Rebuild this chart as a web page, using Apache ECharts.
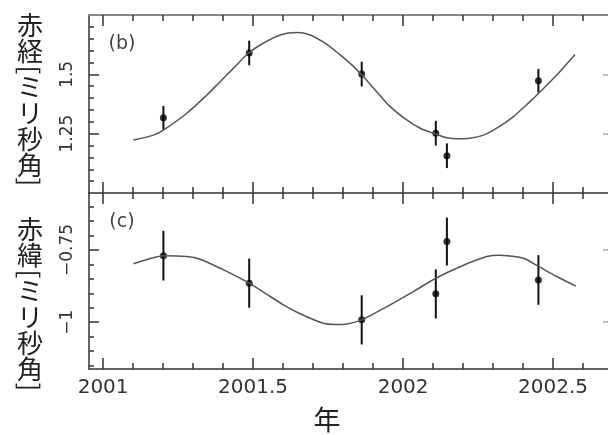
<!DOCTYPE html>
<html>
<head>
<meta charset="utf-8">
<script src="https://cdn.jsdelivr.net/npm/echarts@6/dist/echarts.min.js"></script>
<style>
html,body{margin:0;padding:0;background:#fff;}
#chart{width:608px;height:435px;}
</style>
</head>
<body>
<div id="chart"></div>
<script>
// ---- data ----
const xTicksMajor = [2001, 2001.5, 2002, 2002.5];
const xTicksMinor = [2001.0, 2001.1, 2001.2, 2001.3, 2001.4, 2001.5, 2001.6, 2001.7, 2001.8, 2001.9,
                     2002.0, 2002.1, 2002.2, 2002.3, 2002.4, 2002.5, 2002.6];
const raTicksMajor = [1.25, 1.5];
const raTicksMinor = [1.05, 1.1, 1.15, 1.2, 1.25, 1.3, 1.35, 1.4, 1.45, 1.5, 1.55, 1.6, 1.65, 1.7];
const decTicksMajor = [-1, -0.75];
const decTicksMinor = [-1.15, -1.1, -1.05, -1, -0.95, -0.9, -0.85, -0.8, -0.75, -0.7, -0.65, -0.6];

const obsEpoch = [2001.201, 2001.487, 2001.862, 2002.109, 2002.146, 2002.451];
const raObs    = [1.317, 1.590, 1.501, 1.252, 1.157, 1.473];
const raErr    = [0.05, 0.052, 0.052, 0.052, 0.052, 0.05];
const decObs   = [-0.770, -0.865, -0.992, -0.902, -0.721, -0.854];
const decErr   = [0.086, 0.085, 0.085, 0.085, 0.083, 0.086];

const raFitEpoch = [2001.101, 2001.168, 2001.201, 2001.279, 2001.346, 2001.390, 2001.434, 2001.484,
                    2001.534, 2001.590, 2001.646, 2001.690, 2001.740, 2001.790, 2001.829, 2001.862,
                    2001.912, 2001.957, 2002.012, 2002.057, 2002.107, 2002.146, 2002.185, 2002.223,
                    2002.268, 2002.312, 2002.368, 2002.423, 2002.457, 2002.512, 2002.573];
const raFit      = [1.223, 1.244, 1.265, 1.336, 1.413, 1.469, 1.525, 1.589,
                    1.631, 1.666, 1.676, 1.666, 1.631, 1.582, 1.540, 1.498,
                    1.427, 1.364, 1.308, 1.273, 1.249, 1.233, 1.229, 1.231,
                    1.244, 1.273, 1.322, 1.385, 1.427, 1.497, 1.584];

const decFitEpoch = [2001.101, 2001.150, 2001.201, 2001.279, 2001.323, 2001.400, 2001.487, 2001.545,
                     2001.601, 2001.657, 2001.734, 2001.773, 2001.812, 2001.862, 2001.946, 2002.034,
                     2002.109, 2002.190, 2002.279, 2002.320, 2002.357, 2002.401, 2002.453, 2002.512,
                     2002.576];
const decFit      = [-0.798, -0.782, -0.770, -0.773, -0.782, -0.818, -0.865, -0.903,
                     -0.940, -0.971, -1.004, -1.008, -1.006, -0.992, -0.946, -0.894,
                     -0.848, -0.808, -0.773, -0.768, -0.771, -0.779, -0.808, -0.842,
                     -0.875];

// ---- chart ----
const X_MIN = 2000.953, X_MAX = 2002.683;
const AX = '#333';

function xPair(grid, position, lineStyle, withLabels) {
  const common = { type: 'value', gridIndex: grid, position: position, min: X_MIN, max: X_MAX,
                   splitLine: { show: false } };
  return [
    Object.assign({}, common, {
      axisLine: { show: !!lineStyle, onZero: false, lineStyle: lineStyle || {} },
      axisTick: { show: true, inside: true, length: 6, customValues: xTicksMinor,
                  lineStyle: { color: AX, width: 1.5 } },
      axisLabel: { show: false }
    }),
    Object.assign({}, common, {
      axisLine: { show: false, onZero: false },
      axisTick: { show: true, inside: true, length: 11, customValues: xTicksMajor,
                  lineStyle: { color: AX, width: 1.5 } },
      axisLabel: withLabels ? {
        show: true, customValues: xTicksMajor, margin: 9,
        fontFamily: 'DejaVu Sans', fontSize: 20, color: '#333',
        formatter: v => String(v)
      } : { show: false }
    })
  ];
}

function yTriple(grid, min, max, minor, major) {
  const common = { type: 'value', gridIndex: grid, min: min, max: max, splitLine: { show: false } };
  return [
    Object.assign({}, common, {
      position: 'left',
      axisLine: { show: true, onZero: false, lineStyle: { color: AX, width: 1.5 } },
      axisTick: { show: true, inside: true, length: 5, customValues: minor,
                  lineStyle: { color: AX, width: 1.5 } },
      axisLabel: { show: false }
    }),
    Object.assign({}, common, {
      position: 'left',
      axisLine: { show: false, onZero: false },
      axisTick: { show: true, inside: true, length: 10, customValues: major,
                  lineStyle: { color: AX, width: 1.5 } },
      axisLabel: { show: true, customValues: major, rotate: 90, margin: 13,
                   fontFamily: 'DejaVu Sans', fontSize: 17, color: '#333',
                   formatter: v => String(v).replace('-', '\u2212') }
    }),
    Object.assign({}, common, {
      position: 'right',
      axisLine: { show: false, onZero: false },
      axisTick: { show: true, inside: true, length: 5, customValues: major,
                  lineStyle: { color: '#aaa', width: 1.5 } },
      axisLabel: { show: false }
    })
  ];
}

function errRender(params, api) {
  const x = api.value(0);
  const p1 = api.coord([x, api.value(1)]);
  const p2 = api.coord([x, api.value(2)]);
  return { type: 'line', shape: { x1: p1[0], y1: p1[1], x2: p2[0], y2: p2[1] },
           style: { stroke: '#111', lineWidth: 2 } };
}

const zip = (a, b) => a.map((v, i) => [v, b[i]]);
const errData = (v, e) => obsEpoch.map((x, i) => [x, v[i] - e[i], v[i] + e[i]]);

const xAxes = [].concat(
  xPair(0, 'bottom', { color: AX, width: 1.5 }, false),
  xPair(0, 'top', { color: '#888', width: 2 }, false),
  xPair(1, 'bottom', { color: AX, width: 1.5 }, true),
  xPair(1, 'top', null, false)
);
const yAxes = [].concat(
  yTriple(0, 1.0, 1.75, raTicksMinor, raTicksMajor),
  yTriple(1, -1.162, -0.553, decTicksMinor, decTicksMajor)
);

const jpFont = '"Noto Sans CJK JP"';
function vtitle(top1, top2, brA, brB, lh, second) {
  return [
    { type: 'text', x: 30, y: top1, style: { text: '赤\n' + second, font: '26px ' + jpFont, lineHeight: lh,
      fill: '#222', textAlign: 'center', textVerticalAlign: 'top' } },
    { type: 'text', x: 30, y: brA, rotation: -Math.PI / 2, style: { text: '[', font: '26px ' + jpFont,
      fill: '#222', textAlign: 'center', textVerticalAlign: 'middle' } },
    { type: 'text', x: 30, y: top2, style: { text: 'ミ\nリ\n秒\n角', font: '26px ' + jpFont, lineHeight: lh,
      fill: '#222', textAlign: 'center', textVerticalAlign: 'top' } },
    { type: 'text', x: 30, y: brB, rotation: -Math.PI / 2, style: { text: ']', font: '26px ' + jpFont,
      fill: '#222', textAlign: 'center', textVerticalAlign: 'middle' } }
  ];
}

const option = {
  animation: false,
  backgroundColor: '#fff',
  grid: [
    { left: 89, right: 0, top: 15, height: 178 },
    { left: 89, right: 0, top: 193, height: 176 }
  ],
  xAxis: xAxes,
  yAxis: yAxes,
  graphic: [].concat(
    vtitle(12, 74, 70, 182, 26, '経'),
    vtitle(216, 278, 274, 387, 26, '緯'),
    [
      { type: 'text', x: 122, y: 44, style: { text: '(b)', font: '19px "DejaVu Sans"', fill: '#444',
        textAlign: 'center', textVerticalAlign: 'middle' } },
      { type: 'text', x: 122, y: 222, style: { text: '(c)', font: '19px "DejaVu Sans"', fill: '#444',
        textAlign: 'center', textVerticalAlign: 'middle' } },
      { type: 'text', x: 327, y: 420, style: { text: '年', font: '27px ' + jpFont, fill: '#222',
        textAlign: 'center', textVerticalAlign: 'middle' } }
    ]
  ),
  series: [
    { type: 'line', xAxisIndex: 0, yAxisIndex: 0, data: zip(raFitEpoch, raFit), smooth: 0.3,
      showSymbol: false, symbol: 'none', lineStyle: { color: '#555', width: 1.5 } },
    { type: 'custom', xAxisIndex: 0, yAxisIndex: 0, data: errData(raObs, raErr), renderItem: errRender,
      encode: { x: 0, y: [1, 2] } },
    { type: 'scatter', xAxisIndex: 0, yAxisIndex: 0, data: zip(obsEpoch, raObs), symbolSize: 7,
      itemStyle: { color: '#000' } },
    { type: 'line', xAxisIndex: 4, yAxisIndex: 3, data: zip(decFitEpoch, decFit), smooth: 0.3,
      showSymbol: false, symbol: 'none', lineStyle: { color: '#555', width: 1.5 } },
    { type: 'custom', xAxisIndex: 4, yAxisIndex: 3, data: errData(decObs, decErr), renderItem: errRender,
      encode: { x: 0, y: [1, 2] } },
    { type: 'scatter', xAxisIndex: 4, yAxisIndex: 3, data: zip(obsEpoch, decObs), symbolSize: 7,
      itemStyle: { color: '#000' } }
  ]
};

const chart = echarts.init(document.getElementById('chart'), null, { renderer: 'canvas' });
chart.setOption(option);
</script>
</body>
</html>
